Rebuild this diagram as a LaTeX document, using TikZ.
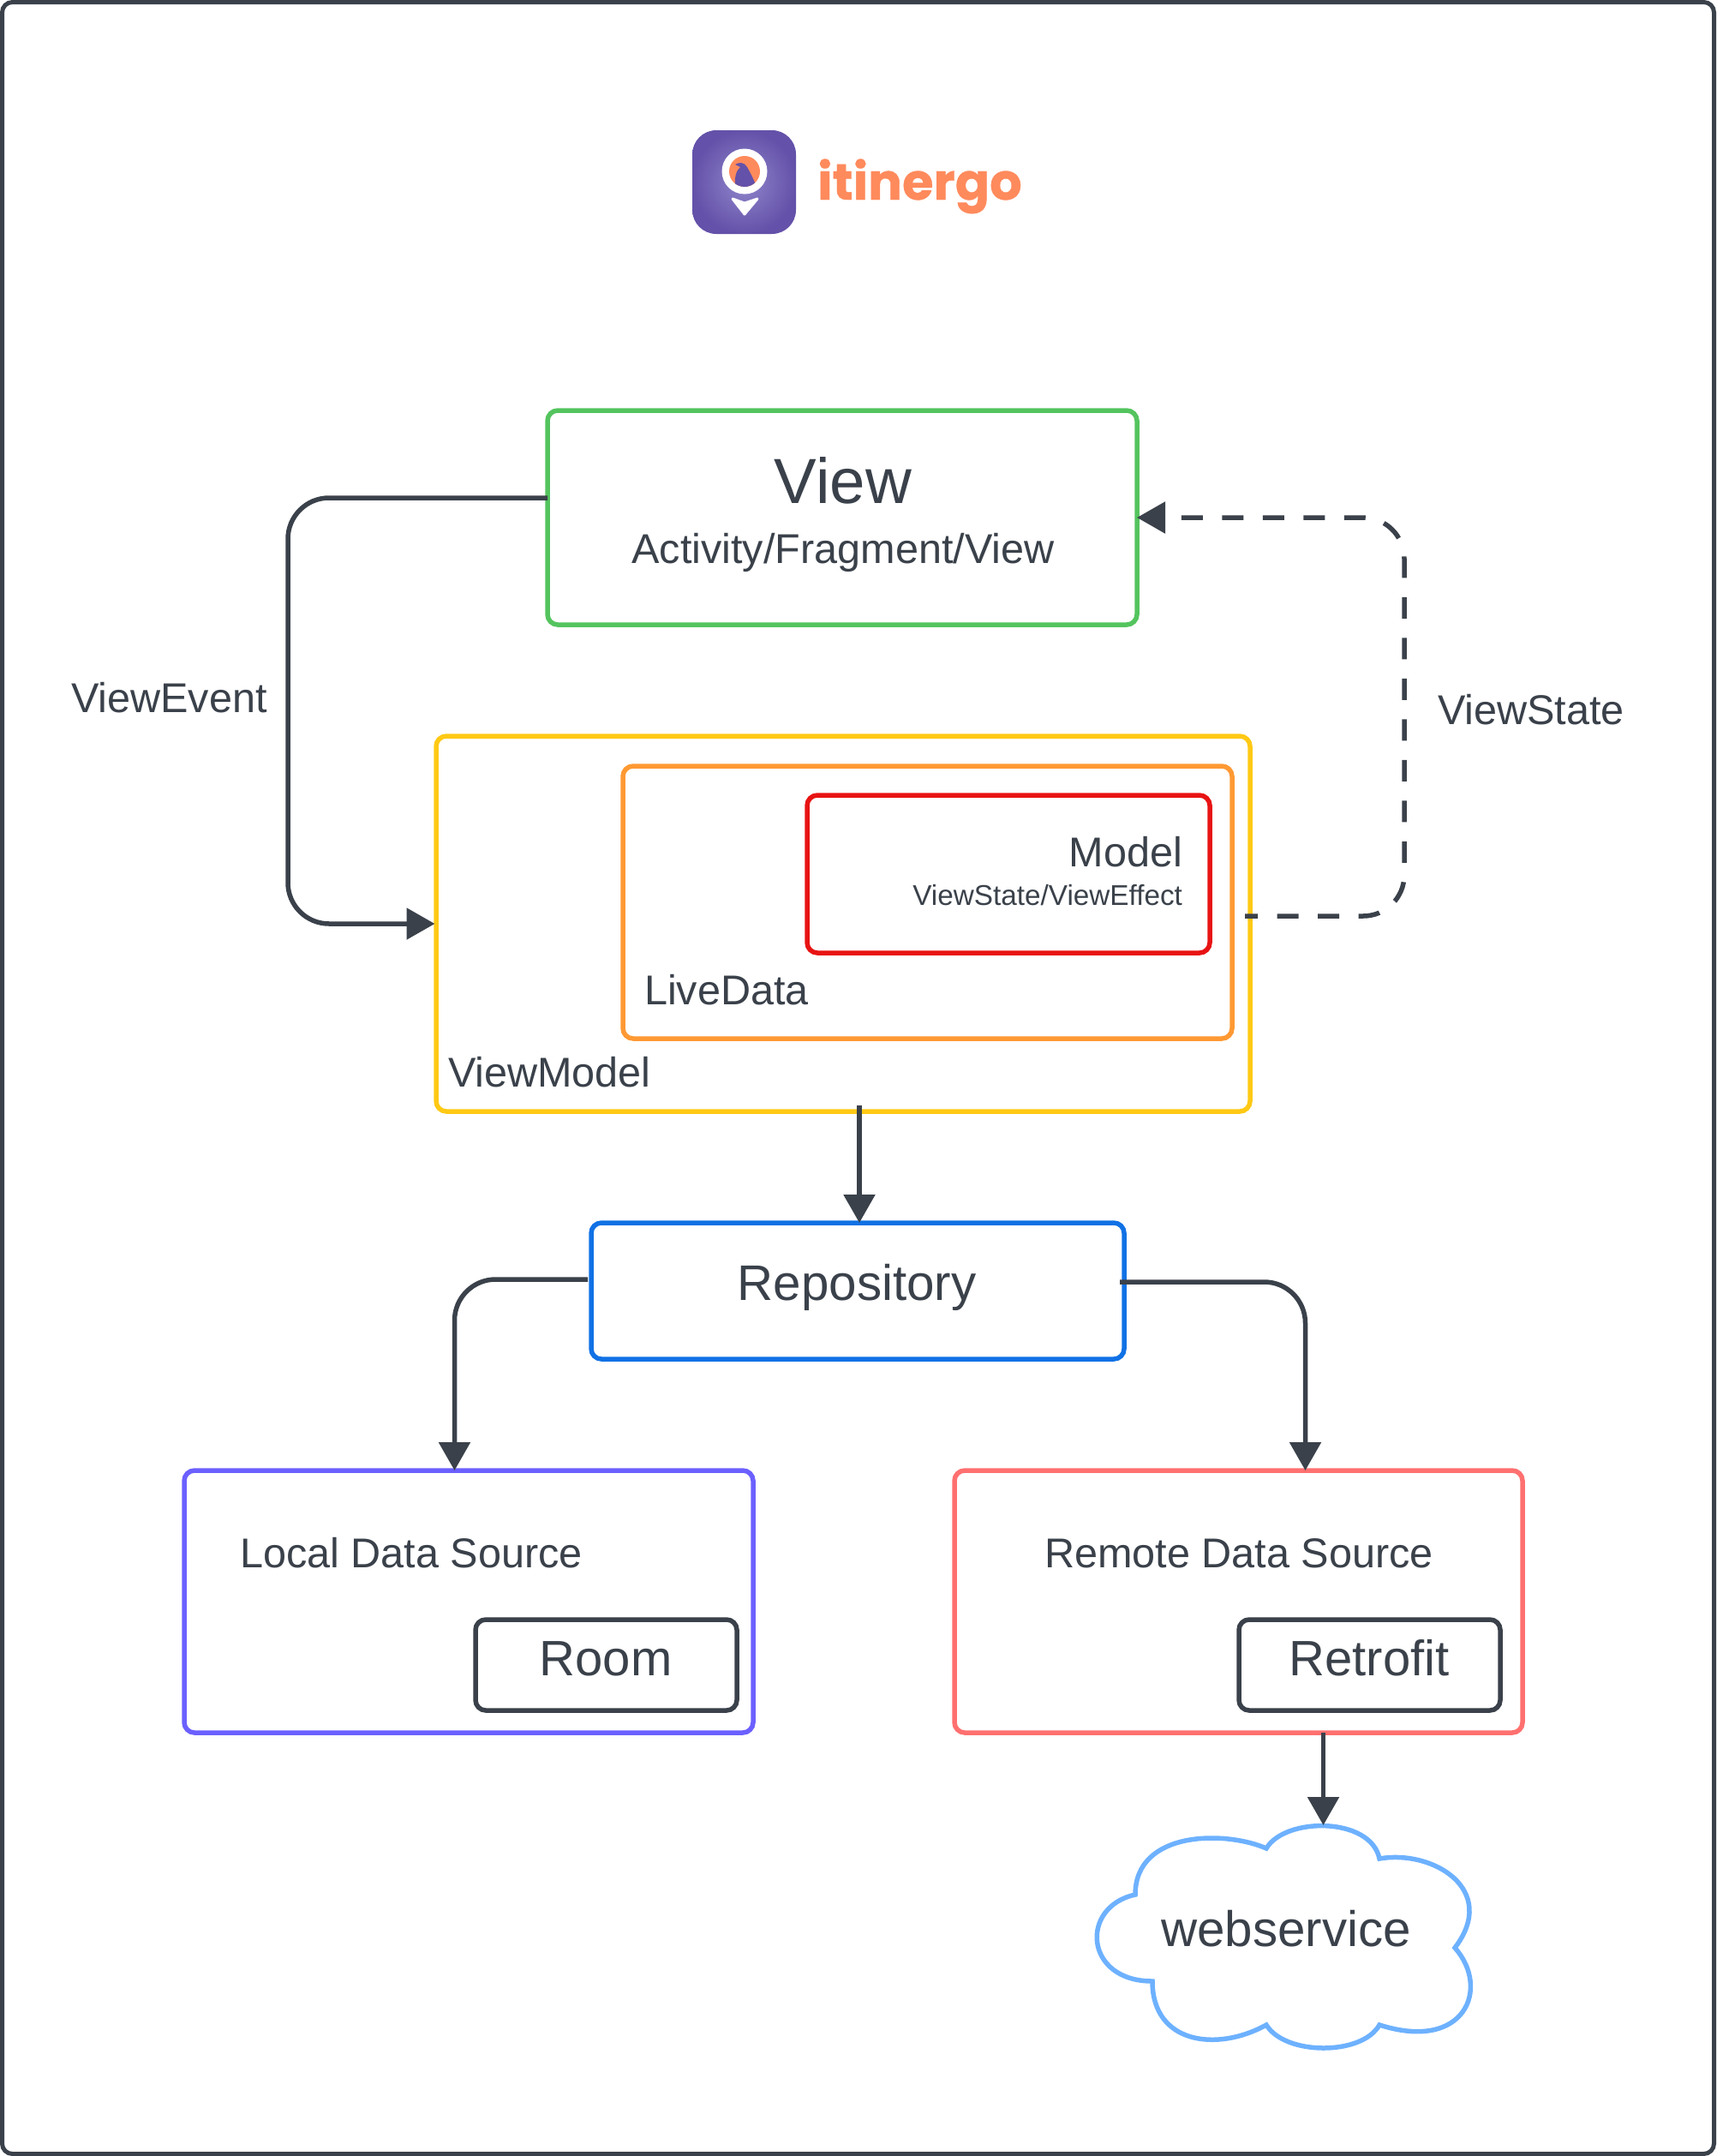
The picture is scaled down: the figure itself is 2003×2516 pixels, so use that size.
\documentclass[tikz,border=0pt]{standalone}
\usepackage{fontspec}
\setmainfont{Liberation Sans}
\newfontfamily\logofont[BoldFeatures={FakeBold=0.6}]{Poppins}
\usetikzlibrary{arrows.meta,positioning}
\definecolor{ink}{HTML}{3A414A}
\definecolor{viewgreen}{HTML}{54C45E}
\definecolor{vmyellow}{HTML}{FFC914}
\definecolor{liveorange}{HTML}{FF9933}
\definecolor{modelred}{HTML}{E81313}
\definecolor{repoblue}{HTML}{1071E5}
\definecolor{localpurple}{HTML}{6B60FF}
\definecolor{remotecoral}{HTML}{FF7070}
\definecolor{cloudblue}{HTML}{6DB1FF}
\definecolor{logocoral}{HTML}{FF8A5C}
\definecolor{logoinner}{HTML}{9086CB}
\definecolor{logoouter}{HTML}{6451A9}
\newcommand{\fs}[1]{\fontsize{#1}{#1}\selectfont}

\begin{document}
\begin{tikzpicture}[
  x=1pt,y=-1pt,
  layer/.style={draw=#1,rounded corners=12pt,line width=5.5pt,outer sep=0pt,inner sep=0pt,anchor=north west},
  txt/.style={text=ink,inner sep=0pt,outer sep=0pt,anchor=base west,font=\fs{#1}},
  flow/.style={-{Triangle[length=33pt,width=36pt]},line width=5.5pt,draw=ink,rounded corners=48pt}
]
\useasboundingbox (0,0) rectangle (2003,2516);
\draw[ink,line width=5pt,rounded corners=12pt] (2.5,2.5) rectangle (2000.5,2513.5);

\shade[inner color=logoinner,outer color=logoouter,rounded corners=28pt] (808,152) rectangle (929,273);
\fill[white] (869,200) circle[radius=26.5pt];
\fill[logocoral] (869,200) circle[radius=18pt];
\begin{scope}
\clip (869,200) circle[radius=18pt];
\fill[logoouter] (858,192) .. controls (862,189) and (869,189) .. (872,195) .. controls (876,202) and (880,210) .. (883,218) -- (858,218) .. controls (857,208) and (859,199) .. (864,195) -- cycle;
\end{scope}
\fill[white,draw=white,line width=3pt,line join=round] (855,232) -- (869,237) -- (884,232) -- (869,250) -- cycle;
\node[anchor=base west,inner sep=0pt,text=logocoral,font=\fs{59.2}\logofont\bfseries] (brand) at (954,233) {itinergo};

\node[layer=viewgreen,minimum width=688pt,minimum height=250pt] (view) at (639,479) {};
\node[txt=74.5,anchor=base] (viewtitle) at (984,587) {View};
\node[txt=48.6,anchor=base] (viewsub) at (984,657) {Activity/Fragment/View};

\node[layer=vmyellow,minimum width=950pt,minimum height=438pt] (viewmodel) at (509,859) {};
\node[layer=liveorange,minimum width=711pt,minimum height=318pt] (livedata) at (727,894) {};
\node[layer=modelred,minimum width=470pt,minimum height=184pt] (model) at (942,928) {};
\node[txt=48.6,anchor=base east] (modeltitle) at (1380,1011) {Model};
\node[txt=33.3,anchor=base east] (modelsub) at (1380,1056) {ViewState/ViewEffect};
\node[txt=48.6] (livetitle) at (752,1172) {LiveData};
\node[txt=48.6] (vmtitle) at (523,1268) {ViewModel};

\node[layer=repoblue,minimum width=622pt,minimum height=159pt] (repository) at (690,1427) {};
\node[txt=58.3,anchor=base] (repotitle) at (1000,1517) {Repository};

\node[layer=localpurple,minimum width=664pt,minimum height=306pt] (local) at (215,1716) {};
\node[txt=48.6] (localtitle) at (280,1829) {Local Data Source};
\node[layer=ink,minimum width=305pt,minimum height=106pt] (room) at (555,1890) {};
\node[txt=58,anchor=base] (roomtitle) at (707,1955) {Room};

\node[layer=remotecoral,minimum width=663pt,minimum height=306pt] (remote) at (1114,1716) {};
\node[txt=48.6] (remotetitle) at (1219,1829) {Remote Data Source};
\node[layer=ink,minimum width=305pt,minimum height=106pt] (retrofit) at (1446,1890) {};
\node[txt=58,anchor=base] (retrofittitle) at (1598,1955) {Retrofit};

\draw[cloudblue,line width=5.5pt,line join=miter] (1478,2157) .. controls (1500,2120) and (1600,2120) .. (1610,2169)
  .. controls (1672,2158) and (1750,2205) .. (1698,2273)
  .. controls (1740,2320) and (1710,2395) .. (1610,2363)
  .. controls (1590,2399) and (1500,2399) .. (1478,2363)
  .. controls (1420,2395) and (1345,2385) .. (1345,2312)
  .. controls (1265,2312) and (1260,2225) .. (1325,2211)
  .. controls (1325,2136) and (1430,2136) .. cycle;
\coordinate (cloudtop) at (1544.5,2130);
\node[txt=58.3,anchor=base] (cloudtitle) at (1501,2271) {webservice};

\node[txt=48.6] (eventlabel) at (83,831) {ViewEvent};
\node[txt=48.6] (statelabel) at (1678,845) {ViewState};

\draw[flow,shorten >=1.5pt] ([yshift=23pt]view.west) -- ++(-303,0) |- (viewmodel.west);
\draw[flow,dash pattern=on 25pt off 22.5pt,dash phase=10pt] ([xshift=-6pt,yshift=9pt]viewmodel.east) -- ++(186,0) |- (view.east);
\draw[flow] ([xshift=19pt,yshift=7pt]viewmodel.south) -- ([xshift=2pt]repository.north);
\draw[flow] ([xshift=-4pt,yshift=13.5pt]repository.west) -| ([xshift=-16.5pt]local.north);
\draw[flow] ([xshift=-5pt,yshift=10.5pt]repository.east) -| ([xshift=78pt]remote.north);
\draw[flow] ([xshift=99pt]remote.south) -- (cloudtop);
\end{tikzpicture}
\end{document}
